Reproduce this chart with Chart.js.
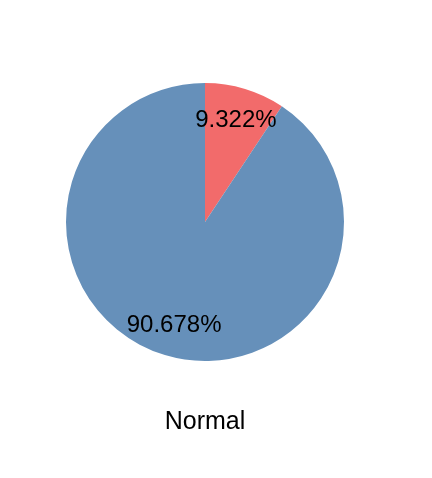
<!DOCTYPE html>
<html>
<head>
<meta charset="utf-8">
<script src="https://cdn.jsdelivr.net/npm/chart.js@4/dist/chart.umd.min.js"></script>
<style>
  html, body { margin: 0; padding: 0; background: #fff; }
  #wrap { width: 432px; height: 478px; position: relative; }
</style>
</head>
<body>
<div id="wrap"><canvas id="myChart"></canvas></div>
<script>
// data
const categories = ["Abnormal", "Normal"];
const shares = [9.322, 90.678];
const sliceColors = ["#F26B6B", "#6690BA"];
const chartTitle = "Normal";

// draws the percent text on each slice and the caption under the pie
const sliceLabels = {
    id: "sliceLabels",
    afterDatasetsDraw(chart) {
        const ctx = chart.ctx;
        const meta = chart.getDatasetMeta(0);
        ctx.save();
        ctx.fillStyle = "#000";
        ctx.font = "24px 'Liberation Sans', Arial, sans-serif";
        ctx.textAlign = "center";
        ctx.textBaseline = "middle";
        meta.data.forEach((arc, i) => {
            const p = arc.getProps(["x", "y", "startAngle", "endAngle", "outerRadius"], true);
            const mid = (p.startAngle + p.endAngle) / 2;
            const r = p.outerRadius * 0.77;
            ctx.fillText(shares[i].toFixed(3) + "%", p.x + Math.cos(mid) * r, p.y + Math.sin(mid) * r + 1);
        });
        // caption
        const a = meta.data[0];
        ctx.font = "25px 'Liberation Sans', Arial, sans-serif";
        ctx.fillText(chartTitle, a.x, a.y + a.outerRadius + 61);
        ctx.restore();
    }
};

new Chart(document.getElementById("myChart"), {
    type: "pie",
    data: {
        labels: categories,
        datasets: [{
            data: shares,
            backgroundColor: sliceColors,
            borderWidth: 0
        }]
    },
    options: {
        responsive: true,
        maintainAspectRatio: false,
        animation: false,
        layout: { padding: { left: 66, right: 88, top: 83, bottom: 117 } },
        plugins: {
            legend: { display: false },
            tooltip: { enabled: false },
            title: { display: false }
        }
    },
    plugins: [sliceLabels]
});
</script>
</body>
</html>
